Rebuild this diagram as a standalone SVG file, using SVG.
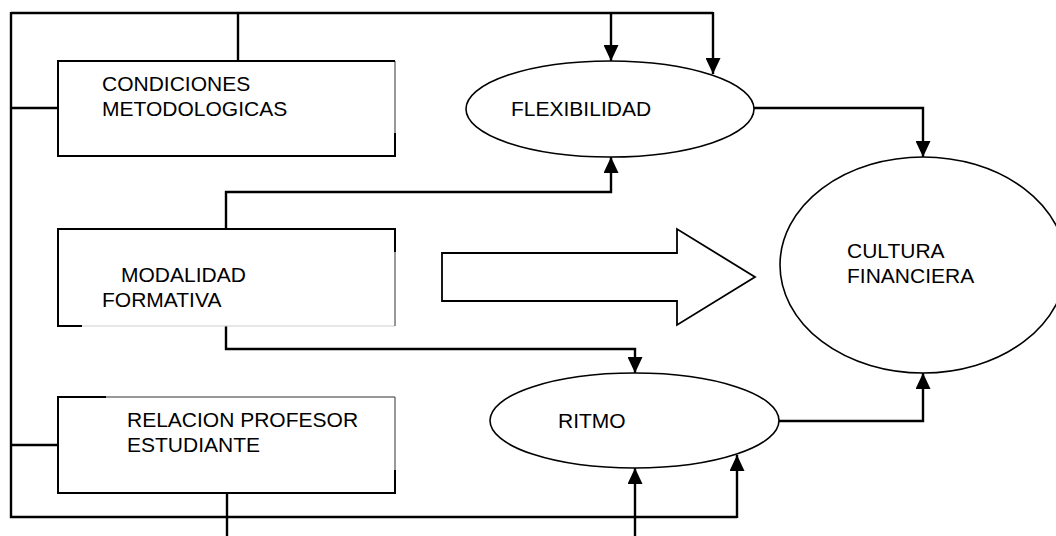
<svg xmlns="http://www.w3.org/2000/svg" width="1056" height="536" viewBox="0 0 1056 536">
  <style>
    .box { fill: #ffffff; stroke: #000000; stroke-width: 2; }
    .edge { fill: none; stroke: #000000; stroke-width: 2; }
    .thin { fill: none; stroke: #333333; stroke-width: 1; }
    .faint { fill: none; stroke: #d0d0d0; stroke-width: 1.2; }
    .oval { fill: #ffffff; stroke: #000000; stroke-width: 1.6; }
    .wire { fill: none; stroke: #000000; stroke-width: 2.4; }
    .wire-arrow { fill: none; stroke: #000000; stroke-width: 2.4; marker-end: url(#head); }
    .label { font-family: "Liberation Sans", Arial, sans-serif; font-size: 21px; fill: #000000; }
  </style>
  <defs>
    <marker id="head" markerUnits="userSpaceOnUse" markerWidth="16" markerHeight="15" refX="16" refY="7.5" orient="auto">
      <path d="M0,0 L16,7.5 L0,15 Z" fill="#000000"/>
    </marker>
  </defs>

  <rect width="1056" height="536" fill="#ffffff"/>

  <!-- connectors -->
  <g id="connectors">
    <!-- outer frame: top bus, left spine, bottom bus -->
    <path class="wire" d="M11,13 H713 M11,12 V517 H737"/>
    <path class="wire" d="M238,13 V61"/>
    <path class="wire" d="M11,108 H58"/>
    <path class="wire" d="M11,445 H58"/>
    <!-- top bus into FLEXIBILIDAD -->
    <path class="wire-arrow" d="M611,13 V61"/>
    <path class="wire-arrow" d="M713,12 V74"/>
    <!-- MODALIDAD to FLEXIBILIDAD -->
    <path class="wire-arrow" d="M226,229 V192 H611 V157"/>
    <!-- MODALIDAD to RITMO -->
    <path class="wire-arrow" d="M226,326 V349 H635 V373"/>
    <!-- bottom bus into RITMO -->
    <path class="wire-arrow" d="M737,518 V455"/>
    <path class="wire-arrow" d="M635,536 V468"/>
    <path class="wire" d="M227,493 V536"/>
    <!-- FLEXIBILIDAD and RITMO into CULTURA FINANCIERA -->
    <path class="wire-arrow" d="M754,108 H923 V157"/>
    <path class="wire-arrow" d="M779,421 H923 V373"/>
    <!-- broad block arrow -->
    <path d="M442,253 H677 V229 L755,277 L677,325 V301 H442 Z" fill="#ffffff" stroke="#000000" stroke-width="1.8"/>
  </g>

  <g id="condiciones">
    <rect x="58" y="61" width="337" height="95" fill="#ffffff" stroke="none"/>
    <path class="thin" d="M395,61 V133"/>
    <path class="edge" d="M395,133 V156 H58 V61 H395"/>
    <text class="label" x="102" y="91">CONDICIONES</text>
    <text class="label" x="102" y="116">METODOLOGICAS</text>
  </g>

  <g id="modalidad">
    <rect x="58" y="229" width="337" height="97" fill="#ffffff" stroke="none"/>
    <path class="faint" d="M82,326 H395"/>
    <path class="thin" d="M395,326 V252"/>
    <path class="edge" d="M82,326 H58 V229 H395 V252"/>
    <text class="label" x="121" y="282">MODALIDAD</text>
    <text class="label" x="102" y="307">FORMATIVA</text>
  </g>

  <g id="relacion">
    <rect x="58" y="397" width="337" height="96" fill="#ffffff" stroke="none"/>
    <path class="thin" d="M106,397 H395 V470"/>
    <path class="edge" d="M106,397 H58 V493 H395 V470"/>
    <text class="label" x="127" y="427">RELACION PROFESOR</text>
    <text class="label" x="127" y="452">ESTUDIANTE</text>
  </g>

  <g id="flexibilidad">
    <ellipse class="oval" cx="610" cy="109" rx="144" ry="48"/>
    <text class="label" x="511" y="116">FLEXIBILIDAD</text>
  </g>

  <g id="ritmo">
    <ellipse class="oval" cx="634.5" cy="420.5" rx="144.5" ry="47.5"/>
    <text class="label" x="558" y="428">RITMO</text>
  </g>

  <g id="cultura">
    <ellipse class="oval" cx="923" cy="265" rx="143" ry="108"/>
    <text class="label" x="847" y="258">CULTURA</text>
    <text class="label" x="847" y="283">FINANCIERA</text>
  </g>
</svg>
